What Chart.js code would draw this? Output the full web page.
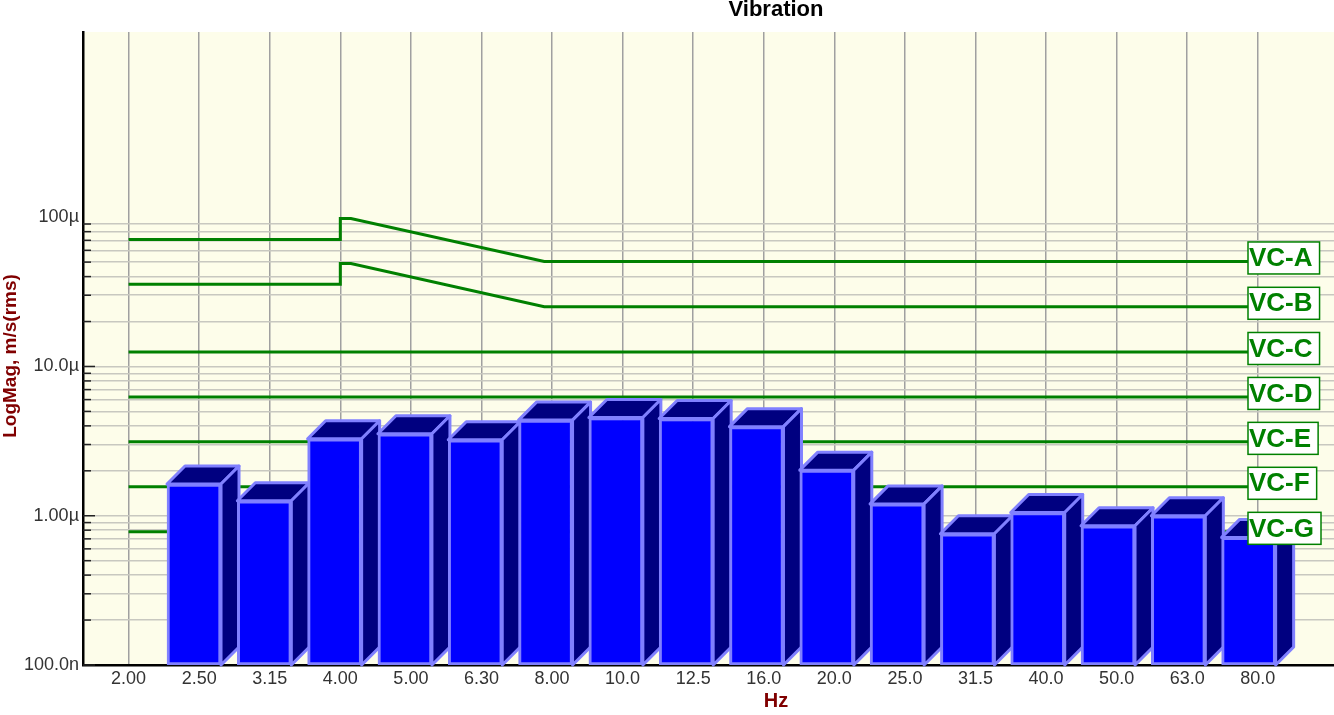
<!DOCTYPE html>
<html>
<head>
<meta charset="utf-8">
<script src="https://cdn.jsdelivr.net/npm/chart.js@4"></script>
<style>
  html, body { margin: 0; padding: 0; background: #fff; }
  #wrap { width: 1334px; height: 715px; }
</style>
</head>
<body>
<div id="wrap"><canvas id="chart" width="1334" height="715"></canvas></div>
<script>
// 1/3 octave bands (Hz)
const freqLabels = ['2.00', '2.50', '3.15', '4.00', '5.00', '6.30', '8.00', '10.0', '12.5',
  '16.0', '20.0', '25.0', '31.5', '40.0', '50.0', '63.0', '80.0']

// measured vibration, m/s rms, one per band from 2.50 Hz
const barValues = [1.63e-6, 1.26e-6, 3.28e-6, 3.54e-6, 3.23e-6, 4.37e-6, 4.55e-6, 4.48e-6,
  3.95e-6, 2.02e-6, 1.2e-6, 0.757e-6, 1.05e-6, 0.857e-6, 1.0e-6, 0.716e-6]

// VC criterion curves: band position (index into freqLabels) and level
const vcNames = ['VC-A', 'VC-B', 'VC-C', 'VC-D', 'VC-E', 'VC-F', 'VC-G']
const vcAx = [0, 3, 3, 3.15, 5.89, 16]
const vcAy = [71e-6, 71e-6, 98e-6, 98e-6, 50.5e-6, 50.5e-6]
const vcBx = [0, 3, 3, 3.15, 5.89, 16]
const vcBy = [35.6e-6, 35.6e-6, 49e-6, 49e-6, 25.1e-6, 25.1e-6]
const vcFlatX = [0, 16]
const vcFlatLevels = [12.5e-6, 6.25e-6, 3.125e-6, 1.5625e-6, 0.78e-6]

// y axis labelled ticks
const yTickValues = [1e-7, 1e-6, 1e-5, 1e-4]
const yTickLabels = ['100.0n', '1.00µ', '10.0µ', '100µ']

const FONT = 'Arial, "Liberation Sans", sans-serif'

const pts = (xs, ys) => xs.map((x, i) => ({ x: x, y: ys[i] }))

const vcSeries = [pts(vcAx, vcAy), pts(vcBx, vcBy)]
  .concat(vcFlatLevels.map(v => pts(vcFlatX, vcFlatX.map(() => v))))

// grid lines at 1..9 of each decade (100µ itself has none)
const yGrid = []
for (let d = -7; d <= -5; d++) {
  for (let m = 1; m <= 9; m++) yGrid.push(m * Math.pow(10, d))
}
yGrid.push(1e-4)

const isMajor = v => yTickValues.some(t => Math.abs(Math.log10(v) - Math.log10(t)) < 1e-6)

const bar3d = {
  id: 'bar3d',
  beforeDraw (chart) {
    const { ctx, chartArea: a } = chart
    ctx.save()
    ctx.fillStyle = '#fdfdea'
    ctx.fillRect(a.left, a.top, a.right - a.left, a.bottom - a.top)
    ctx.restore()
  },
  beforeDatasetDraw (chart, args) {
    if (args.meta.type !== 'bar') return
    const ctx = chart.ctx
    const d = 18
    ctx.save()
    ctx.fillStyle = '#000080'
    ctx.strokeStyle = '#8080ff'
    ctx.lineWidth = 3
    ctx.lineJoin = 'round'
    args.meta.data.forEach(bar => {
      const l = bar.x - bar.width / 2
      const r = bar.x + bar.width / 2
      const t = bar.y
      const b = bar.base
      ctx.beginPath()
      ctx.moveTo(l, t); ctx.lineTo(l + d, t - d); ctx.lineTo(r + d, t - d); ctx.lineTo(r, t)
      ctx.closePath(); ctx.fill(); ctx.stroke()
      ctx.beginPath()
      ctx.moveTo(r, t); ctx.lineTo(r + d, t - d); ctx.lineTo(r + d, b - d); ctx.lineTo(r, b)
      ctx.closePath(); ctx.fill(); ctx.stroke()
    })
    ctx.restore()
  },
  afterDatasetsDraw (chart) {
    const { ctx, chartArea: a } = chart
    const ys = chart.scales.y
    ctx.save()
    // inward tick marks on the y axis
    ctx.strokeStyle = '#222'
    ctx.lineWidth = 1.5
    yGrid.forEach(v => {
      if (v === 1e-4) return
      const py = ys.getPixelForValue(v)
      ctx.beginPath()
      ctx.moveTo(a.left, py)
      ctx.lineTo(a.left + (isMajor(v) ? 12 : 8), py)
      ctx.stroke()
    })
    // criterion labels
    ctx.font = 'bold 26px ' + FONT
    ctx.textBaseline = 'middle'
    chart.data.datasets.forEach((ds, i) => {
      if (ds.type !== 'line') return
      const meta = chart.getDatasetMeta(i)
      const last = meta.data[meta.data.length - 1]
      const w = ctx.measureText(ds.label).width + 8
      const h = 32
      const left = 1248
      const top = last.y - 3.5 - h / 2
      ctx.fillStyle = '#fff'
      ctx.fillRect(left, top, w, h)
      ctx.strokeStyle = '#008000'
      ctx.lineWidth = 1.5
      ctx.strokeRect(left, top, w, h)
      ctx.fillStyle = '#008000'
      ctx.fillText(ds.label, left + 1, top + h / 2 + 1)
    })
    ctx.restore()
  },
  afterDraw (chart) {
    const ctx = chart.ctx
    ctx.save()
    ctx.textAlign = 'center'
    ctx.textBaseline = 'middle'
    ctx.fillStyle = '#000'
    ctx.font = 'bold 22px ' + FONT
    ctx.fillText('Vibration', 776, 10)
    ctx.fillStyle = '#800000'
    ctx.font = 'bold 20px ' + FONT
    ctx.fillText('Hz', 776, 701)
    ctx.font = 'bold 19px ' + FONT
    ctx.translate(11, 356)
    ctx.rotate(-Math.PI / 2)
    ctx.fillText('LogMag, m/s(rms)', 0, 0)
    ctx.restore()
  }
}

const datasets = [{
  type: 'bar',
  label: 'Vibration',
  xAxisID: 'xb',
  yAxisID: 'y',
  order: 0,
  data: barValues.map((v, i) => ({ x: i + 1, y: v })),
  backgroundColor: '#0000ff',
  borderColor: '#8080ff',
  borderWidth: 3,
  borderSkipped: false,
  barThickness: 54
}].concat(vcSeries.map((data, i) => ({
  type: 'line',
  label: vcNames[i],
  xAxisID: 'x',
  yAxisID: 'y',
  order: 1,
  data: data,
  borderColor: '#008000',
  borderWidth: 3,
  pointRadius: 0,
  tension: 0,
  fill: false
})))

new Chart(document.getElementById('chart'), {
  data: { datasets: datasets },
  options: {
    responsive: false,
    animation: false,
    layout: { padding: { top: 32, left: 0, right: 0, bottom: 0 } },
    plugins: { legend: { display: false }, tooltip: { enabled: false }, title: { display: false } },
    scales: {
      x: {
        type: 'linear',
        position: 'bottom',
        weight: 1,
        offset: false,
        min: -0.646,
        max: 17.08,
        afterBuildTicks: s => { s.ticks = freqLabels.map((_, i) => ({ value: i })) },
        afterFit: s => { s.height = 50 },
        ticks: {
          autoSkip: false,
          maxRotation: 0,
          padding: 3,
          color: '#333',
          font: { family: FONT, size: 18 },
          callback: v => freqLabels[v] !== undefined ? freqLabels[v] : ''
        },
        grid: { color: '#a0a0a0', lineWidth: 1.5, drawTicks: false, offset: false },
        border: { display: true, color: '#000', width: 2.5 }
      },
      // band spacing used by the bars (slightly tighter than the grid)
      xb: {
        type: 'linear',
        position: 'bottom',
        weight: 0,
        offset: false,
        min: -0.963,
        max: 16.83,
        afterFit: s => { s.height = 0 },
        ticks: { display: false },
        grid: { display: false, drawTicks: false, offset: false },
        border: { display: false }
      },
      y: {
        type: 'logarithmic',
        min: 1e-7,
        max: 1.74e-3,
        afterBuildTicks: s => { s.ticks = yGrid.map(v => ({ value: v })) },
        afterFit: s => { s.width = 83 },
        ticks: {
          autoSkip: false,
          padding: 4,
          color: '#333',
          font: { family: FONT, size: 18 },
          callback: v => {
            const i = yTickValues.findIndex(t => Math.abs(Math.log10(v) - Math.log10(t)) < 1e-6)
            return i >= 0 ? yTickLabels[i] : ''
          }
        },
        grid: {
          color: c => (c.tick && c.tick.value === 1e-4) ? 'rgba(0,0,0,0)' : '#c8c8c0',
          lineWidth: 1.5,
          drawTicks: false
        },
        border: { display: true, color: '#000', width: 2.5 }
      }
    }
  },
  plugins: [bar3d]
})
</script>
</body>
</html>
